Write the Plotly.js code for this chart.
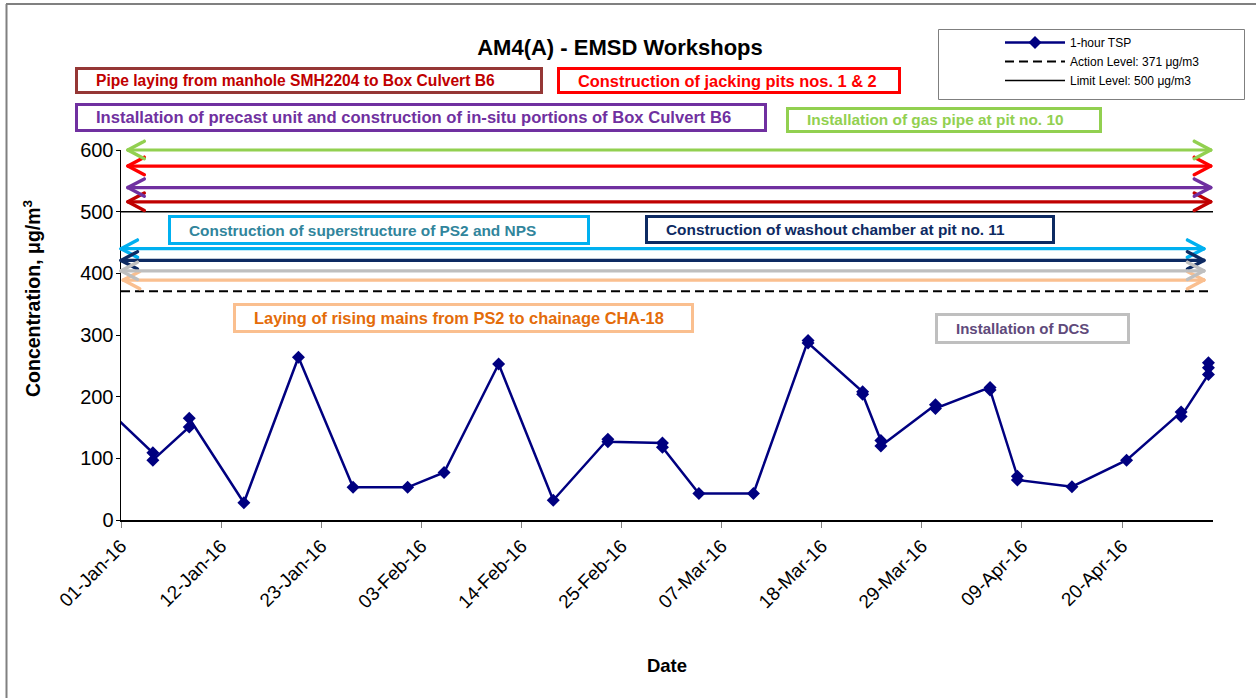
<!DOCTYPE html>
<html><head><meta charset="utf-8">
<script src="https://cdn.plot.ly/plotly-3.0.1.min.js"></script>
<style>html,body{margin:0;padding:0;background:#fff}#chart{width:1256px;height:698px}
.annotation-arrow-g path{stroke-linecap:round}</style>
</head><body><div id="chart"></div>
<script>
// ---------------- data ----------------
const sampleDates = [
  '2015-12-29 12:00',
  '2016-01-04 12:00','2016-01-04 12:00',
  '2016-01-08 12:00','2016-01-08 12:00',
  '2016-01-14 12:00','2016-01-20 12:00','2016-01-26 12:00',
  '2016-02-01 12:00','2016-02-05 12:00','2016-02-11 12:00','2016-02-17 12:00',
  '2016-02-23 12:00','2016-02-23 12:00',
  '2016-02-29 12:00','2016-02-29 12:00',
  '2016-03-04 12:00','2016-03-10 12:00',
  '2016-03-16 12:00','2016-03-16 12:00',
  '2016-03-22 12:00','2016-03-22 12:00',
  '2016-03-24 12:00','2016-03-24 12:00',
  '2016-03-30 12:00','2016-03-30 12:00',
  '2016-04-05 12:00','2016-04-05 12:00',
  '2016-04-08 12:00','2016-04-08 12:00',
  '2016-04-14 12:00','2016-04-20 12:00',
  '2016-04-26 12:00','2016-04-26 12:00',
  '2016-04-29 12:00','2016-04-29 12:00','2016-04-29 12:00'
];
const tspValues = [
  193,
  109, 97,
  151, 165,
  28, 264, 53,
  53, 77, 253, 32,
  131, 127,
  125, 118,
  43, 43,
  291, 287,
  208, 204,
  129, 120,
  187, 181,
  215, 211,
  71, 65,
  54, 97,
  175, 168,
  236, 247, 255
];
const actionLevel = 371;
const limitLevel = 500;
const seriesNames = ['1-hour TSP', 'Action Level: 371 μg/m3', 'Limit Level: 500 μg/m3'];
const axisStart = '2016-01-01';
const axisEnd = '2016-04-30';
const tickDates = ['2016-01-01','2016-01-12','2016-01-23','2016-02-03','2016-02-14','2016-02-25',
                   '2016-03-07','2016-03-18','2016-03-29','2016-04-09','2016-04-20'];
const tickLabels = ['01-Jan-16','12-Jan-16','23-Jan-16','03-Feb-16','14-Feb-16','25-Feb-16',
                    '07-Mar-16','18-Mar-16','29-Mar-16','09-Apr-16','20-Apr-16'];
const yTicks = [0, 100, 200, 300, 400, 500, 600];

// construction activities (all span the whole period)
const activityLabels = [
  'Pipe laying from manhole SMH2204 to Box Culvert B6',
  'Construction of jacking pits nos. 1 & 2',
  'Installation of precast unit and construction of in-situ portions of Box Culvert B6',
  'Installation of gas pipe at pit no. 10',
  'Construction of superstructure of PS2 and NPS',
  'Construction of washout chamber at pit no. 11',
  'Laying of rising mains from PS2 to chainage CHA-18',
  'Installation of DCS'
];
const activityStart = ['2016-01-01 18:00','2016-01-01 18:00','2016-01-01 18:00','2016-01-01 18:00',
                       '2016-01-01 00:00','2016-01-01 00:00','2016-01-01 06:00','2016-01-01 00:00'];
const activityEnd   = ['2016-04-29 18:00','2016-04-29 18:00','2016-04-29 18:00','2016-04-29 18:00',
                       '2016-04-29 00:00','2016-04-29 00:00','2016-04-29 00:00','2016-04-29 00:00'];

// ---------------- styles / positions ----------------
const arrowLevel  = [516, 574, 539, 600, 440, 421, 389, 404];
const arrowColor  = ['#c00000','#ff0000','#7030a0','#92d050','#00b0f0','#0d2a62','#fabf8f','#bfbfbf'];
const boxBorder   = ['#953735','#ff0000','#7030a0','#92d050','#00b0f0','#0d2a62','#fabf8f','#bfbfbf'];
const boxText     = ['#c00000','#ff0000','#7030a0','#92d050','#31859c','#0d2a62','#e46c0a','#604a7b'];
const boxFontSize = [15.6, 16.4, 16.6, 15.4, 15.4, 15.4, 16.4, 15];
// box outer rectangles in page pixels [left, top, right, bottom]
const boxPx = [
  [75, 67, 543, 94],
  [557, 67, 901, 94],
  [75, 103, 767, 132],
  [786, 107, 1102, 133],
  [168, 215, 590, 245],
  [645, 215, 1055, 244],
  [233, 303, 694, 333],
  [935, 313, 1130, 344]
];
const headLen = 18, headHalf = 9.5;

const W = 1256, H = 698;
const PL = 121, PR = 1213, PT = 150, PB = 520;
const px2x = p => (p - PL) / (PR - PL);
const py2y = p => (PB - p) / (PB - PT);
const FONT = 'Arial, "Liberation Sans", sans-serif';

const traces = [
  {
    x: sampleDates, y: tspValues, name: seriesNames[0],
    type: 'scatter', mode: 'lines+markers', cliponaxis: false,
    line: {color: '#000080', width: 2.5},
    marker: {symbol: 'diamond', size: 10, color: '#000080'}
  },
  {
    x: [axisStart, axisEnd], y: [actionLevel, actionLevel], name: seriesNames[1],
    type: 'scatter', mode: 'lines', line: {color: '#000', width: 2, dash: '9px,5px'}
  },
  {
    x: [axisStart, axisEnd], y: [limitLevel, limitLevel], name: seriesNames[2],
    type: 'scatter', mode: 'lines', line: {color: '#000', width: 1.5}
  }
];

const shapes = [];
const annotations = [];

function arm(xd, yv, dx, dy, color) {
  return {x: xd, y: yv, xref: 'x', yref: 'y', ax: dx, ay: dy,
          text: '', showarrow: true, arrowhead: 0, arrowwidth: 3.4, arrowcolor: color, standoff: 0};
}

activityLabels.forEach((lab, i) => {
  const c = arrowColor[i];
  // shaft
  annotations.push({
    x: activityEnd[i], y: arrowLevel[i], ax: activityStart[i], ay: arrowLevel[i],
    xref: 'x', yref: 'y', axref: 'x', ayref: 'y',
    text: '', showarrow: true, arrowhead: 0, arrowwidth: 3.2, arrowcolor: c
  });
  // open chevron heads at both ends
  annotations.push(arm(activityEnd[i], arrowLevel[i], -headLen, -headHalf, c));
  annotations.push(arm(activityEnd[i], arrowLevel[i], -headLen, headHalf, c));
  annotations.push(arm(activityStart[i], arrowLevel[i], headLen, -headHalf, c));
  annotations.push(arm(activityStart[i], arrowLevel[i], headLen, headHalf, c));

  const b = boxPx[i];
  shapes.push({
    type: 'rect', xref: 'paper', yref: 'paper',
    x0: px2x(b[0] + 1.5), x1: px2x(b[2] - 1.5), y0: py2y(b[3] - 1.5), y1: py2y(b[1] + 1.5),
    line: {color: boxBorder[i], width: 3}, fillcolor: '#fff', layer: 'above'
  });
  annotations.push({
    xref: 'paper', yref: 'paper', x: px2x(b[0] + 19), y: py2y((b[1] + b[3]) / 2),
    xanchor: 'left', yanchor: 'middle', showarrow: false,
    text: '<b>' + lab.replace(/&/g, '&amp;') + '</b>',
    font: {family: FONT, size: boxFontSize[i], color: boxText[i]}
  });
});

// y axis title (placed like the original, above the plot centre)
annotations.push({
  xref: 'paper', yref: 'paper', x: px2x(32), y: py2y(298), xanchor: 'center', yanchor: 'middle',
  textangle: -90, showarrow: false,
  text: '<b>Concentration, μg/m<sup>3</sup></b>', font: {family: FONT, size: 19.5, color: '#000'}
});

// legend frame and outer frame
shapes.push({type: 'rect', xref: 'paper', yref: 'paper',
  x0: px2x(938.5), x1: px2x(1244.5), y0: py2y(99.5), y1: py2y(29.5),
  line: {color: '#7f7f7f', width: 1}, fillcolor: 'rgba(0,0,0,0)'});
shapes.push({type: 'line', xref: 'paper', yref: 'paper',
  x0: px2x(6), x1: px2x(W + 2), y0: py2y(4), y1: py2y(4), line: {color: '#808080', width: 2}});
shapes.push({type: 'line', xref: 'paper', yref: 'paper',
  x0: px2x(6.5), x1: px2x(6.5), y0: py2y(4), y1: py2y(H + 2), line: {color: '#808080', width: 2}});

const layout = {
  width: W, height: H,
  margin: {l: PL, r: W - PR, t: PT, b: H - PB, pad: 0},
  paper_bgcolor: '#fff', plot_bgcolor: '#fff',
  font: {family: FONT, color: '#000'},
  title: {
    text: '<b>AM4(A) - EMSD Workshops</b>', font: {family: FONT, size: 22, color: '#000'},
    xref: 'container', yref: 'container', x: 620 / W, y: 1 - 47 / H, xanchor: 'center', yanchor: 'middle'
  },
  showlegend: true,
  legend: {
    x: px2x(1000), y: py2y(28), xanchor: 'left', yanchor: 'top',
    bgcolor: 'rgba(0,0,0,0)', borderwidth: 0, font: {family: FONT, size: 12, color: '#000'},
    itemwidth: 60, tracegroupgap: 0
  },
  xaxis: {
    type: 'date', range: [axisStart, axisEnd],
    tickmode: 'array', tickvals: tickDates, ticktext: tickLabels, tickangle: -45,
    ticks: 'outside', ticklen: 6, tickcolor: '#808080', tickwidth: 1,
    tickfont: {family: FONT, size: 19, color: '#000'},
    showline: true, linecolor: '#000', linewidth: 1.5, showgrid: false, zeroline: false,
    title: {text: '<b>Date</b>', font: {family: FONT, size: 18.5, color: '#000'}, standoff: 47},
    automargin: false
  },
  yaxis: {
    range: [0, 600], tickmode: 'array', tickvals: yTicks,
    ticks: 'outside', ticklen: 4, tickcolor: '#000', tickwidth: 1, ticklabelstandoff: -2,
    tickfont: {family: FONT, size: 20, color: '#000'},
    showline: true, linecolor: '#000', linewidth: 1.5, showgrid: false, zeroline: false,
    automargin: false
  },
  shapes: shapes,
  annotations: annotations
};

Plotly.newPlot('chart', traces, layout, {displayModeBar: false, staticPlot: true});
</script>
</body></html>
